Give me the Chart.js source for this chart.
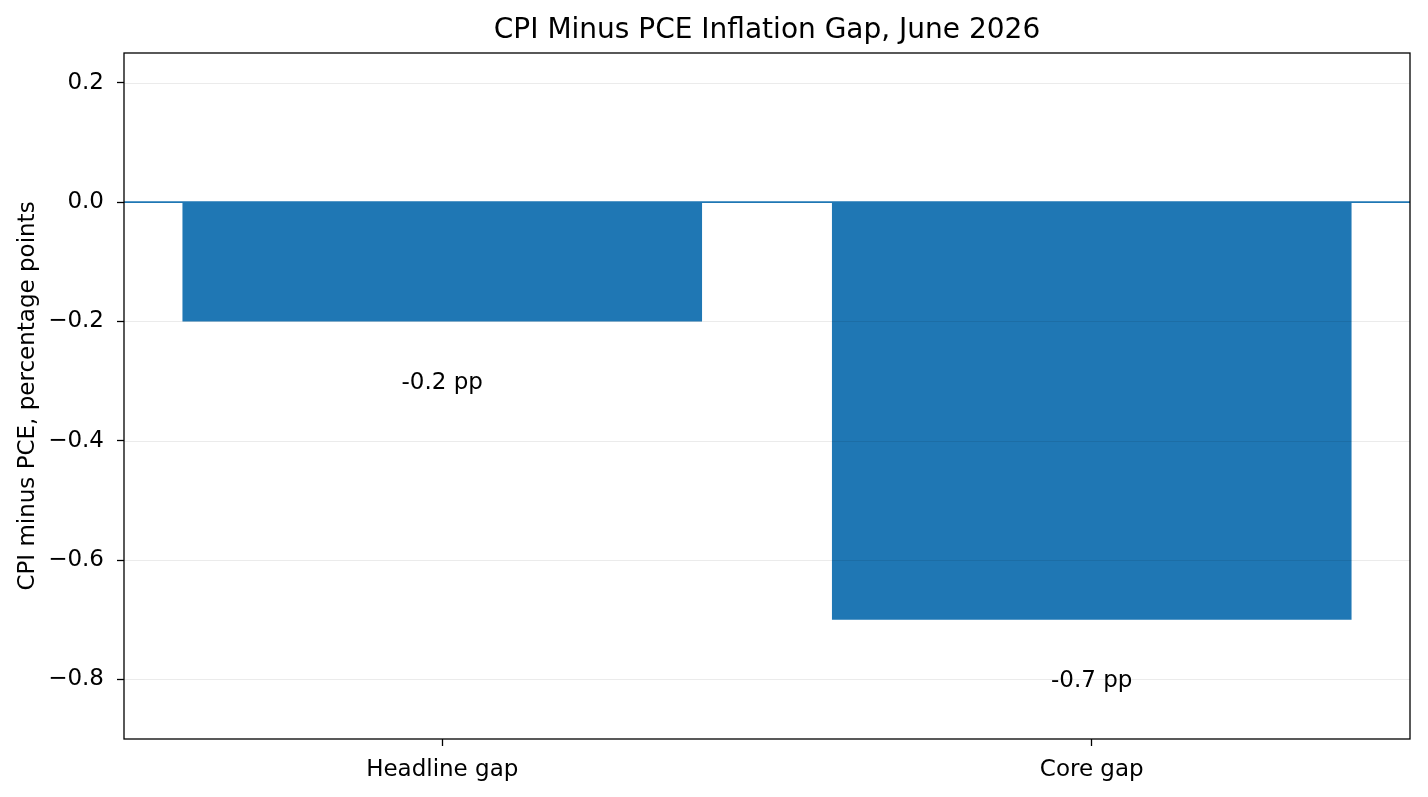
<!DOCTYPE html>
<html>
<head>
<meta charset="utf-8">
<script src="https://cdn.jsdelivr.net/npm/chart.js@4/dist/chart.umd.min.js"></script>
<style>
  html, body { margin: 0; padding: 0; background: #fff; }
  #wrap { width: 1428px; height: 797px; position: relative; }
</style>
</head>
<body>
<div id="wrap"><canvas id="gap"></canvas></div>
<script>
// data
const categories = ['Headline gap', 'Core gap'];
const gapValues = [-0.2, -0.7];
const barLabels = ['-0.2 pp', '-0.7 pp'];
const yTicks = [-0.8, -0.6, -0.4, -0.2, 0.0, 0.2];

const FONT = "'DejaVu Sans', sans-serif";
const BLUE = '#1f77b4';

// grid, frame, zero line, title and value labels drawn on top of the bars
const extras = {
  id: 'extras',
  afterDatasetsDraw(chart) {
    const { ctx, chartArea: a, scales: { x, y } } = chart;
    ctx.save();
    ctx.strokeStyle = 'rgba(0,0,0,0.08)';
    ctx.lineWidth = 1.2;
    yTicks.forEach(v => {
      const py = Math.round(y.getPixelForValue(v)) + 0.5;
      ctx.beginPath(); ctx.moveTo(a.left, py); ctx.lineTo(a.right, py); ctx.stroke();
    });
    // zero line
    const z = y.getPixelForValue(0);
    ctx.strokeStyle = BLUE;
    ctx.lineWidth = 1.6;
    ctx.beginPath(); ctx.moveTo(a.left, z); ctx.lineTo(a.right, z); ctx.stroke();
    // frame
    ctx.strokeStyle = '#000';
    ctx.lineWidth = 1.3;
    ctx.strokeRect(a.left, a.top, a.right - a.left, a.bottom - a.top);
    // value labels just below each bar
    ctx.fillStyle = '#000';
    ctx.font = '23px ' + FONT;
    ctx.textAlign = 'center';
    ctx.textBaseline = 'middle';
    gapValues.forEach((v, i) => {
      ctx.fillText(barLabels[i], x.getPixelForValue(i), y.getPixelForValue(v - 0.1) + 2);
    });
    // title
    ctx.font = '28px ' + FONT;
    ctx.fillText('CPI Minus PCE Inflation Gap, June 2026', (a.left + a.right) / 2, 31);
    ctx.restore();
  }
};

new Chart(document.getElementById('gap').getContext('2d'), {
  type: 'bar',
  data: {
    datasets: [{
      data: gapValues.map((v, i) => ({ x: i, y: v })),
      backgroundColor: BLUE,
      borderWidth: 0,
      barPercentage: 0.8,
      categoryPercentage: 1.0
    }]
  },
  options: {
    responsive: true,
    maintainAspectRatio: false,
    animation: false,
    devicePixelRatio: 1,
    layout: { padding: { top: 53, right: 18, left: 0, bottom: 0 } },
    plugins: {
      legend: { display: false },
      title: { display: false },
      tooltip: { enabled: false }
    },
    scales: {
      x: {
        type: 'linear',
        min: -0.49,
        max: 1.49,
        offset: false,
        grid: { offset: false, drawOnChartArea: false, drawTicks: true, tickLength: 7, tickColor: '#000', tickWidth: 1.3 },
        border: { display: false },
        afterBuildTicks(s) { s.ticks = categories.map((c, i) => ({ value: i })); },
        ticks: {
          color: '#000',
          padding: 10,
          font: { family: FONT, size: 23 },
          callback: v => categories[v]
        },
        afterFit(s) { s.height = 58; }
      },
      y: {
        min: -0.9,
        max: 0.25,
        grid: { drawOnChartArea: false, drawTicks: true, tickLength: 7, tickColor: '#000', tickWidth: 1.3 },
        border: { display: false },
        afterBuildTicks(s) { s.ticks = yTicks.map(v => ({ value: v })); },
        ticks: {
          color: '#000',
          padding: 13,
          font: { family: FONT, size: 23 },
          callback: v => {
            const t = (Math.abs(v) < 1e-9 ? 0 : v).toFixed(1);
            return t.replace('-', '\u2212');
          }
        },
        title: {
          display: true,
          text: 'CPI minus PCE, percentage points',
          color: '#000',
          font: { family: FONT, size: 23 },
          padding: { top: 14, bottom: 0 }
        },
        afterFit(s) { s.width = 124; }
      }
    }
  },
  plugins: [extras]
});
</script>
</body>
</html>
